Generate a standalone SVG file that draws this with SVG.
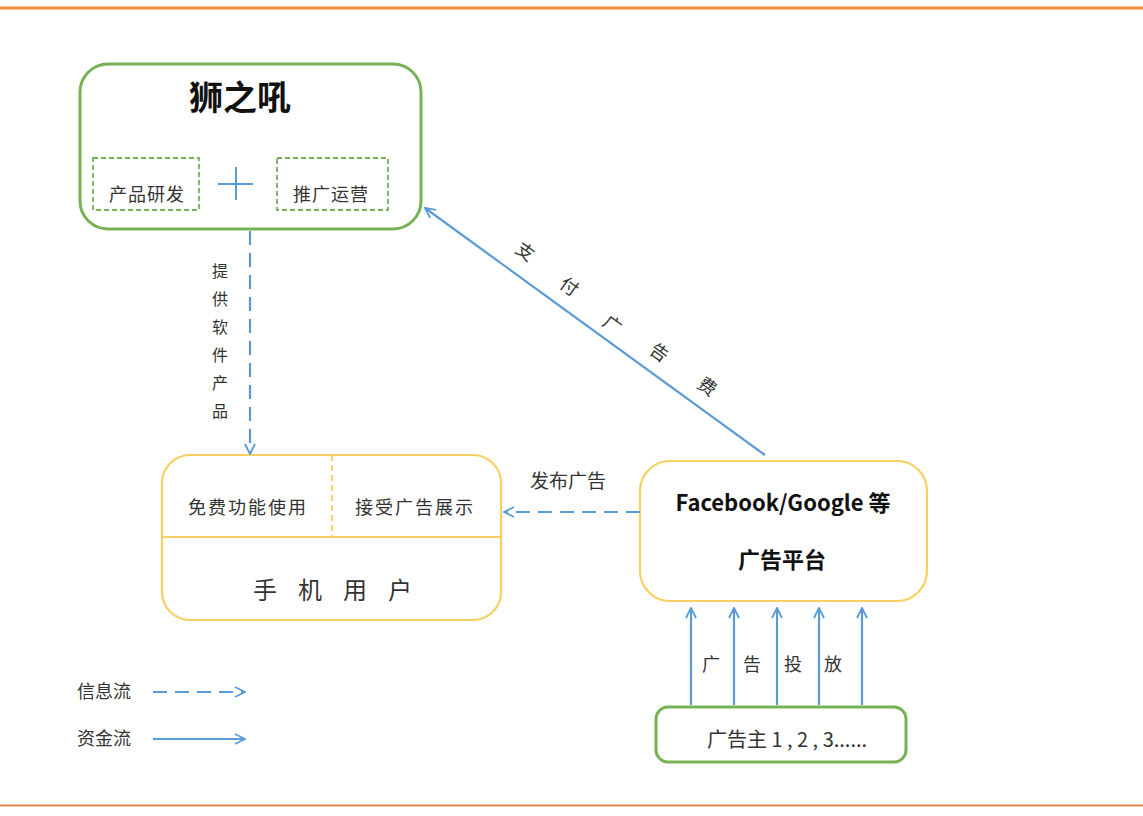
<svg xmlns="http://www.w3.org/2000/svg" width="1143" height="816" viewBox="0 0 1143 816">
<style>
.t{font-family:"Noto Sans CJK SC","Liberation Sans",sans-serif;fill:#333;}
.b{font-weight:bold;fill:#111;}
.green{fill:#fff;stroke:#77B254;stroke-width:3;}
.gdash{fill:none;stroke:#77B254;stroke-width:1.8;stroke-dasharray:5 3;}
.yellow{fill:#fff;stroke:#F7D061;stroke-width:2.2;}
.solid{fill:none;stroke:#5B9BD5;stroke-width:2.2;marker-end:url(#ah);}
.dash{fill:none;stroke:#5B9BD5;stroke-width:2.2;stroke-dasharray:14 8;marker-end:url(#ah);}
</style>
<defs>
<marker id="ah" viewBox="0 0 12 12" refX="11" refY="6" markerWidth="12" markerHeight="12" markerUnits="userSpaceOnUse" orient="auto">
<path d="M1,1 L11,6 L1,11" fill="none" stroke="#5B9BD5" stroke-width="1.8"/>
</marker>
</defs>
<rect width="1143" height="816" fill="#fff"/>
<line x1="0" y1="8" x2="1143" y2="8" stroke="#EE8A3C" stroke-width="3"/>
<line x1="0" y1="805.5" x2="1143" y2="805.5" stroke="#E08A4C" stroke-width="2"/>

<g id="shizhihou">
<rect class="green" x="80" y="64" width="341" height="165" rx="28"/>
<text class="t b" x="240" y="110" font-size="34" text-anchor="middle">狮之吼</text>
<rect class="gdash" x="93" y="158" width="106" height="52"/>
<text class="t" x="147" y="201" font-size="18" text-anchor="middle" letter-spacing="1">产品研发</text>
<rect class="gdash" x="277" y="158" width="111" height="52"/>
<text class="t" x="331" y="201" font-size="18" text-anchor="middle" letter-spacing="1">推广运营</text>
<path d="M236,167 V200 M218,184 H253" stroke="#5B9BD5" stroke-width="2" fill="none"/>
</g>

<g id="users">
<rect class="yellow" x="162" y="455" width="339" height="165" rx="28"/>
<line x1="162" y1="537" x2="501" y2="537" stroke="#F7D061" stroke-width="2"/>
<line x1="332" y1="455" x2="332" y2="537" stroke="#F7D061" stroke-width="1.8" stroke-dasharray="6 4"/>
<text class="t" x="248" y="514" font-size="18" text-anchor="middle" letter-spacing="2">免费功能使用</text>
<text class="t" x="415" y="514" font-size="18" text-anchor="middle" letter-spacing="2">接受广告展示</text>
<text class="t" x="343" y="599" font-size="24" text-anchor="middle" letter-spacing="21">手机用户</text>
</g>

<g id="platform">
<rect class="yellow" x="640" y="461" width="287" height="140" rx="30"/>
<text class="t b" x="783" y="511" font-size="22" text-anchor="middle">Facebook/Google 等</text>
<text class="t b" x="782" y="568" font-size="22" text-anchor="middle">广告平台</text>
</g>

<g id="advertisers">
<rect class="green" x="656" y="707" width="250" height="55" rx="12" stroke-width="2.2"/>
<text class="t" x="787" y="747" font-size="20" text-anchor="middle">广告主 1 , 2 , 3......</text>
</g>

<g id="legend">
<text class="t" x="104" y="698" font-size="18" text-anchor="middle">信息流</text>
<line class="dash" x1="153" y1="692" x2="245" y2="692"/>
<text class="t" x="104" y="745" font-size="18" text-anchor="middle">资金流</text>
<line class="solid" x1="153" y1="739" x2="245" y2="739"/>
</g>

<g id="connectors">
<line class="dash" x1="250" y1="231" x2="250" y2="454"/>
<g class="t" font-size="16" text-anchor="middle">
<text x="220" y="277">提</text>
<text x="220" y="305">供</text>
<text x="220" y="333">软</text>
<text x="220" y="361">件</text>
<text x="220" y="389">产</text>
<text x="220" y="417">品</text>
</g>
<line class="dash" x1="640" y1="512" x2="504" y2="512"/>
<text class="t" x="568" y="488" font-size="19" text-anchor="middle">发布广告</text>
<line class="solid" x1="765" y1="455" x2="425" y2="208"/>
<g class="t" font-size="18" text-anchor="middle">
<text transform="translate(525,252) rotate(36)" y="6">支</text>
<text transform="translate(569,287) rotate(36)" y="6">付</text>
<text transform="translate(612,325) rotate(36)" y="6">广</text>
<text transform="translate(659,353) rotate(36)" y="6">告</text>
<text transform="translate(707,387) rotate(36)" y="6">费</text>
</g>
<line class="solid" x1="691" y1="705" x2="691" y2="608"/>
<line class="solid" x1="734" y1="705" x2="734" y2="608"/>
<line class="solid" x1="777" y1="705" x2="777" y2="608"/>
<line class="solid" x1="819" y1="705" x2="819" y2="608"/>
<line class="solid" x1="862" y1="705" x2="862" y2="608"/>
<g class="t" font-size="18" text-anchor="middle">
<text x="711" y="671">广</text>
<text x="752" y="671">告</text>
<text x="793" y="671">投</text>
<text x="833" y="671">放</text>
</g>
</g>
</svg>
